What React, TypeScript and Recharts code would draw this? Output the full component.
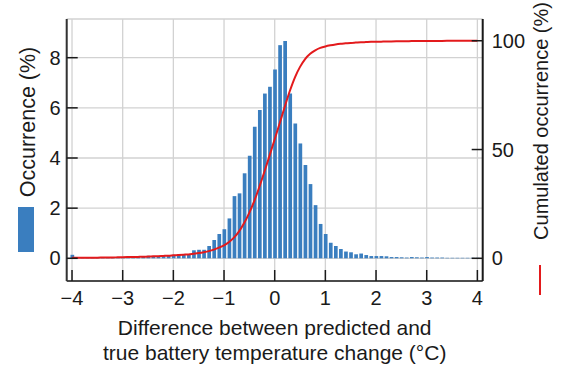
import React from 'react';
import { ComposedChart, Bar, Line, XAxis, YAxis, CartesianGrid, Label } from 'recharts';

// Histogram bin centres (°C)
const binCenters = [
  -4.0, -3.9, -3.8, -3.7, -3.6, -3.5, -3.4, -3.3, -3.2, -3.1,
  -3.0, -2.9, -2.8, -2.7, -2.6, -2.5, -2.4, -2.3, -2.2, -2.1,
  -2.0, -1.9, -1.8, -1.7, -1.6, -1.5, -1.4, -1.3, -1.2, -1.1,
  -1.0, -0.9, -0.8, -0.7, -0.6, -0.5, -0.4, -0.3, -0.2, -0.1,
  0.0, 0.1, 0.2, 0.3, 0.4, 0.5, 0.6, 0.7, 0.8, 0.9,
  1.0, 1.1, 1.2, 1.3, 1.4, 1.5, 1.6, 1.7, 1.8, 1.9,
  2.0, 2.1, 2.2, 2.3, 2.4, 2.5, 2.6, 2.7, 2.8, 2.9,
  3.0, 3.1, 3.2, 3.3, 3.4, 3.5, 3.6, 3.7, 3.8, 3.9,
  4.0,
];

// Occurrence per bin (%)
const occurrence = [
  0.14, 0.02, 0.02, 0.02, 0.02, 0.02, 0.03, 0.03, 0.03, 0.03,
  0.04, 0.05, 0.05, 0.06, 0.06, 0.1, 0.08, 0.09, 0.1, 0.12,
  0.14, 0.16, 0.17, 0.15, 0.32, 0.34, 0.34, 0.49, 0.73, 0.97,
  1.16, 1.59, 2.48, 2.59, 3.39, 4.09, 5.25, 5.91, 6.57, 6.84,
  7.53, 8.5, 8.67, 6.57, 5.38, 4.58, 3.72, 2.96, 2.12, 1.37,
  0.97, 0.62, 0.49, 0.37, 0.27, 0.24, 0.16, 0.19, 0.13, 0.09,
  0.09, 0.09, 0.08, 0.05, 0.05, 0.04, 0.03, 0.05, 0.04, 0.03,
  0.05, 0.03, 0.03, 0.03, 0.02, 0.02, 0.02, 0.02, 0.02, 0.02,
  0.02,
];

// Cumulated occurrence (%)
const cumulated = [
  0.2, 0.2, 0.25, 0.25, 0.3, 0.3, 0.35, 0.4, 0.4, 0.45,
  0.5, 0.55, 0.6, 0.65, 0.7, 0.8, 0.9, 1.0, 1.1, 1.2,
  1.35, 1.5, 1.65, 1.8, 2.1, 2.4, 2.8, 3.3, 4.0, 4.9,
  6.0, 7.5, 9.6, 12.5, 16.3, 21.0, 26.5, 33.0, 40.0, 47.3,
  54.7, 62.2, 69.8, 77.0, 83.2, 88.0, 91.6, 94.0, 95.6, 96.7,
  97.4, 97.9, 98.3, 98.6, 98.8, 99.0, 99.15, 99.3, 99.4, 99.5,
  99.55, 99.6, 99.65, 99.7, 99.75, 99.8, 99.8, 99.85, 99.85, 99.9,
  99.9, 99.9, 99.92, 99.94, 99.95, 99.96, 99.97, 99.98, 99.99, 100,
  100,
];

const xTicks = [-4, -3, -2, -1, 0, 1, 2, 3, 4];
const leftTicks = [0, 2, 4, 6, 8];
const rightTicks = [0, 50, 100];

const data = binCenters.map((x, i) => ({ x, occ: occurrence[i], cum: cumulated[i] }));

const FONT = "'Liberation Sans', Arial, Helvetica, sans-serif";
const INK = '#1a1a1a';
const BLUE = '#3a7ebf';
const RED = '#e31a1c';
const GRID = '#d2d2d2';

const fmt = (v: number) => (v < 0 ? `\u2212${Math.abs(v)}` : `${v}`);

function XTick(props: any) {
  const { x, y, payload } = props;
  return (
    <g>
      <line x1={x} x2={x} y1={y} y2={y - 11} stroke={INK} strokeWidth={1.5} />
      <text x={x} y={y + 24} textAnchor="middle" fontSize={20} fontFamily={FONT} fill={INK}>
        {fmt(payload.value)}
      </text>
    </g>
  );
}

function LeftTick(props: any) {
  const { x, y, payload } = props;
  return (
    <g>
      <line x1={x} x2={x + 11} y1={y} y2={y} stroke={INK} strokeWidth={1.5} />
      <text x={x - 6} y={y + 7} textAnchor="end" fontSize={20} fontFamily={FONT} fill={INK}>
        {fmt(payload.value)}
      </text>
    </g>
  );
}

function RightTick(props: any) {
  const { x, y, payload } = props;
  return (
    <g>
      <line x1={x} x2={x - 11} y1={y} y2={y} stroke={INK} strokeWidth={1.5} />
      <text x={x + 9} y={y + 7} textAnchor="start" fontSize={20} fontFamily={FONT} fill={INK}>
        {fmt(payload.value)}
      </text>
    </g>
  );
}

// Axis titles with their series swatches
const renderLeftTitle = () => (
  <g>
    <text
      transform="translate(34.5,122) rotate(-90)"
      textAnchor="middle"
      fontSize={21.5}
      fontFamily={FONT}
      fill={INK}
    >
      Occurrence (%)
    </text>
    <rect x={18} y={207} width={16} height={45} fill={BLUE} />
  </g>
);

const renderRightTitle = () => (
  <g>
    <text
      transform="translate(548,121) rotate(-90)"
      textAnchor="middle"
      fontSize={20}
      fontFamily={FONT}
      fill={INK}
    >
      Cumulated occurrence (%)
    </text>
    <line x1={540} x2={540} y1={265} y2={295} stroke={RED} strokeWidth={2} />
  </g>
);

const renderXTitle = (props: any) => {
  const vb = props.viewBox || { x: 66.7, width: 416 };
  const cx = vb.x + vb.width / 2;
  return (
    <g>
      <text x={cx} y={335} textAnchor="middle" fontSize={21} fontFamily={FONT} fill={INK}>
        Difference between predicted and
      </text>
      <text x={cx} y={360} textAnchor="middle" fontSize={21} fontFamily={FONT} fill={INK}>
        true battery temperature change (°C)
      </text>
    </g>
  );
};

export default function App() {
  return (
    <div style={{ position: 'absolute', left: 0, top: 0, width: 563, height: 367, background: '#fff' }}>
      <ComposedChart width={563} height={367} data={data} margin={{ top: 19, right: 0, bottom: 0, left: 0 }}>
        <CartesianGrid stroke={GRID} strokeWidth={1.3} yAxisId="left" />
        <XAxis
          dataKey="x"
          type="number"
          domain={[-4.105, 4.105]}
          ticks={xTicks}
          height={86}
          tickSize={0}
          tickMargin={0}
          tickLine={false}
          tick={<XTick />}
          axisLine={{ stroke: INK, strokeWidth: 1.5 }}
          interval={0}
        >
          <Label content={renderXTitle} />
        </XAxis>
        <XAxis
          xAxisId="top"
          orientation="top"
          dataKey="x"
          type="number"
          domain={[-4.105, 4.105]}
          height={0}
          tick={false}
          tickLine={false}
          axisLine={{ stroke: INK, strokeWidth: 1.5 }}
        />
        <YAxis
          yAxisId="left"
          type="number"
          domain={[-0.905, 9.543]}
          ticks={leftTicks}
          width={66.7}
          tickSize={0}
          tickMargin={0}
          tickLine={false}
          tick={<LeftTick />}
          axisLine={{ stroke: '#333', strokeWidth: 2 }}
          interval={0}
        >
          <Label content={renderLeftTitle} />
        </YAxis>
        <YAxis
          yAxisId="right"
          orientation="right"
          type="number"
          domain={[-10.43, 110.0]}
          ticks={rightTicks}
          width={80.3}
          tickSize={0}
          tickMargin={0}
          tickLine={false}
          tick={<RightTick />}
          axisLine={{ stroke: INK, strokeWidth: 2 }}
          interval={0}
        >
          <Label content={renderRightTitle} />
        </YAxis>
        <Bar dataKey="occ" yAxisId="left" fill={BLUE} barSize={3.7} isAnimationActive={false} />
        <Line
          dataKey="cum"
          yAxisId="right"
          type="monotone"
          stroke={RED}
          strokeWidth={2}
          dot={false}
          activeDot={false}
          isAnimationActive={false}
        />
      </ComposedChart>
    </div>
  );
}
